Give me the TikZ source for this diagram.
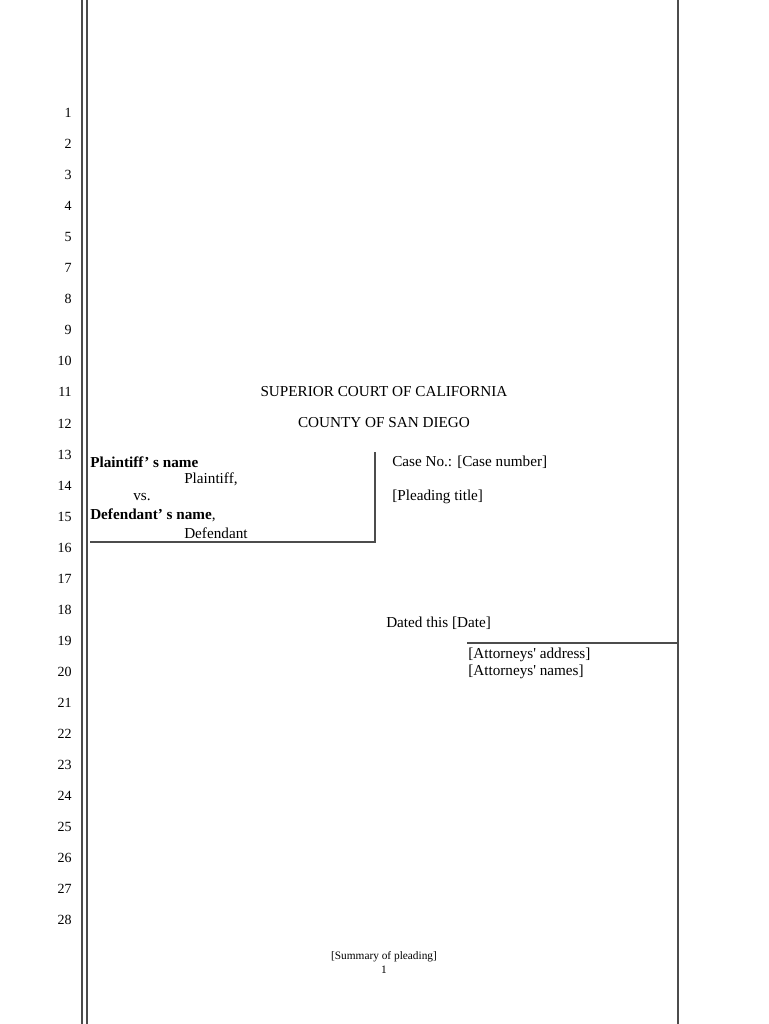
\documentclass[tikz,border=0pt]{standalone}
\usepackage{fontspec}
\setmainfont{Liberation Serif}
\begin{document}
\begin{tikzpicture}[x=0.75pt,y=-0.75pt,
  num/.style={anchor=east,font=\fontsize{10.5}{12}\selectfont,inner sep=0pt},
  txt/.style={anchor=west,font=\fontsize{11.4}{13}\selectfont,inner sep=0pt},
  ctr/.style={font=\fontsize{11.4}{13}\selectfont,inner sep=0pt},
  rule/.style={line width=0.8pt,black!70}]
\useasboundingbox (0,0) rectangle (768,1024);
\draw[rule] (82,0) -- (82,1024);
\draw[rule] (87,0) -- (87,1024);
\draw[rule] (678,0) -- (678,1024);
\foreach \n [count=\i from 0] in {1,2,3,4,5,7,8,9,10,11,12,13,14,15,16,17,18,19,20,21,22,23,24,25,26,27,28}
  \node[num] (n\n) at (72,113+31.04*\i) {\n};
\node[ctr] (t1) at (384,392) {SUPERIOR COURT OF CALIFORNIA};
\node[ctr] (t2) at (384,423) {COUNTY OF SAN DIEGO};
\node[txt] (p1) at (90,462) {\textbf{Plaintiff' s name}};
\node[txt] (p2) at (184,479) {Plaintiff,};
\node[txt] (p3) at (133,497) {vs.};
\node[txt] (p4) at (90,515) {\textbf{Defendant' s name},};
\node[txt] (p5) at (184,533) {Defendant};
\coordinate (b1) at (375,452);
\coordinate (b2) at (375,542);
\coordinate (b3) at (90,542);
\draw[rule] (b1) -- (b2) -- (b3);
\node[txt] (c1) at (392,462) {Case No.: [Case number]};
\node[txt] (c2) at (392,497) {[Pleading title]};
\node[txt] (d1) at (386,623) {Dated this [Date]};
\coordinate (l1) at (467,643);
\coordinate (l2) at (678,643);
\draw[rule] (l1) -- (l2);
\node[txt] (a1) at (468,655) {[Attorneys\textquotesingle{} address]};
\node[txt] (a2) at (468,672) {[Attorneys\textquotesingle{} names]};
\node[ctr,font=\fontsize{8.5}{10}\selectfont] (s1) at (384,957) {[Summary of pleading]};
\node[ctr,font=\fontsize{8.5}{10}\selectfont] (s2) at (384,970) {1};
\end{tikzpicture}
\end{document}
